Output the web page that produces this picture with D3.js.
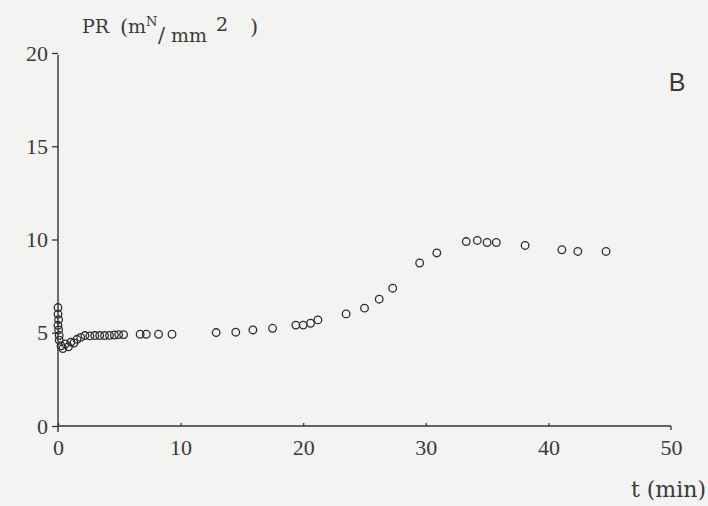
<!DOCTYPE html>
<html>
<head>
<meta charset="utf-8">
<script src="https://cdn.jsdelivr.net/npm/d3@7"></script>
<style>
  body { margin: 0; background: #f3f3f1; }
  text { font-family: "DejaVu Serif", serif; fill: #3a3a3a; }
</style>
</head>
<body>
<script>
// time (min) and PR (mN/mm2)
var tMin = [0, 0, 0.05, 0, 0.05, 0.1, 0.1, 0.25, 0.4, 0.6, 0.85, 1.05, 1.3, 1.55, 1.85, 2.2,
            2.6, 3.0, 3.4, 3.8, 4.2, 4.6, 4.95, 5.35,
            6.7, 7.2, 8.2, 9.3,
            12.9, 14.5, 15.9, 17.5, 19.4, 20.0, 20.6, 21.2, 23.5, 25.0, 26.2, 27.3,
            29.5, 30.9, 33.3, 34.2, 35.0, 35.75, 38.1, 41.1, 42.4, 44.7]
var pr   = [6.35, 6.0, 5.7, 5.4, 5.15, 4.85, 4.6, 4.3, 4.15, 4.4, 4.25, 4.5, 4.45, 4.65, 4.75, 4.85,
            4.83, 4.85, 4.85, 4.85, 4.86, 4.88, 4.9, 4.9,
            4.92, 4.92, 4.92, 4.92,
            5.01, 5.03, 5.15, 5.24, 5.41, 5.41, 5.51, 5.69, 6.01, 6.32, 6.80, 7.39,
            8.74, 9.28, 9.89, 9.95, 9.84, 9.84, 9.68, 9.45, 9.36, 9.36]
var xTicks = [0, 10, 20, 30, 40, 50]
var yTicks = [0, 5, 10, 15, 20]

var width = 708, height = 506
var margin = { top: 53, bottom: 80, left: 58, right: 37 }

var datos = tMin.map(function(t, i) { return { t: t, v: pr[i] } })

var escalaX = d3.scaleLinear()
    .domain([0, 50])
    .range([margin.left, width - margin.right])

var escalaY = d3.scaleLinear()
    .domain([0, 20])
    .range([height - margin.bottom, margin.top])

var svg = d3.select("body")
    .append("svg")
    .attr("width", width)
    .attr("height", height)

// y axis: ticks outward, labels to the left
var ejeY = d3.axisLeft(escalaY)
    .tickValues(yTicks)
    .tickSize(6)
    .tickPadding(4)
svg.append("g")
    .attr("class", "ejeY")
    .attr("transform", "translate(" + margin.left + ",0)")
    .call(ejeY)

// x axis: small inner ticks, labels below
var ejeX = d3.axisBottom(escalaX)
    .tickValues(xTicks)
    .tickSize(-3)
    .tickPadding(13)
svg.append("g")
    .attr("class", "ejeX")
    .attr("transform", "translate(0," + escalaY(0) + ")")
    .call(ejeX)

svg.selectAll(".domain").remove()
svg.selectAll(".tick line").attr("stroke", "#333").attr("stroke-width", 1.3)
svg.selectAll(".tick text")
    .style("font-family", "Liberation Serif, serif")
    .style("font-size", "22px")
    .attr("fill", "#444")

// axis lines, y runs slightly below x
svg.append("line")
    .attr("x1", escalaX(0)).attr("x2", escalaX(0))
    .attr("y1", escalaY(20) + 2).attr("y2", escalaY(0) + 6)
    .attr("stroke", "#333").attr("stroke-width", 1.4)
svg.append("line")
    .attr("x1", escalaX(0)).attr("x2", escalaX(50))
    .attr("y1", escalaY(0)).attr("y2", escalaY(0))
    .attr("stroke", "#333").attr("stroke-width", 1.4)
svg.append("line")
    .attr("x1", escalaX(50)).attr("x2", escalaX(50))
    .attr("y1", escalaY(0)).attr("y2", escalaY(0) + 4)
    .attr("stroke", "#333").attr("stroke-width", 1.3)
svg.select(".ejeX .tick:last-of-type line").remove()

// points
svg.append("g")
    .selectAll("circle")
    .data(datos)
    .enter()
    .append("circle")
    .attr("cx", d => escalaX(d.t))
    .attr("cy", d => escalaY(d.v))
    .attr("r", 3.8)
    .attr("fill", "none")
    .attr("stroke", "#2e2e2e")
    .attr("stroke-width", 1.3)

// y label  PR (mN/mm2 ), pieces spaced like the typewritten original
var piezas = [
    { s: "PR", x: 82, y: 33, f: 19 },
    { s: "(", x: 120, y: 34, f: 21 },
    { s: "m", x: 128, y: 33, f: 19 },
    { s: "N", x: 146, y: 26, f: 13 },
    { s: "/", x: 158, y: 42, f: 21 },
    { s: "mm", x: 171, y: 42, f: 19 },
    { s: "2", x: 216, y: 31, f: 19 },
    { s: ")", x: 250, y: 34, f: 21 }
]
svg.append("g")
    .selectAll("text")
    .data(piezas)
    .enter()
    .append("text")
    .attr("x", d => d.x)
    .attr("y", d => d.y)
    .style("font-size", d => d.f + "px")
    .text(d => d.s)

// x label
svg.append("text")
    .attr("x", 706)
    .attr("y", 497)
    .attr("text-anchor", "end")
    .style("font-size", "22px")
    .text("t (min)")

// panel letter
svg.append("text")
    .attr("x", 677)
    .attr("y", 91)
    .attr("text-anchor", "middle")
    .style("font-family", "Liberation Sans, sans-serif")
    .style("font-size", "25px")
    .attr("fill", "#333")
    .text("B")
</script>
</body>
</html>
